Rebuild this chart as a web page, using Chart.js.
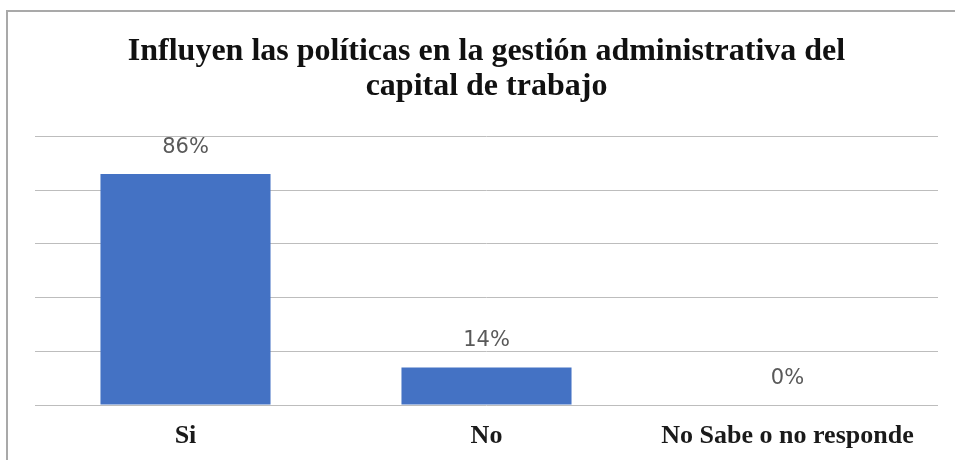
<!DOCTYPE html>
<html>
<head>
<meta charset="utf-8">
<script src="https://cdn.jsdelivr.net/npm/chart.js@4"></script>
<style>
  body { margin: 0; background: #fff; }
  #wrap { width: 955px; height: 460px; }
</style>
</head>
<body>
<div id="wrap"><canvas id="chart1" width="955" height="460"></canvas></div>
<script>
// Influencia de las políticas en el capital de trabajo
const categories = ['Si', 'No', 'No Sabe o no responde'];
const percentages = [86, 14, 0];
const yTicks = [0, 20, 40, 60, 80, 100];

// marco gris del gráfico (solo lados izquierdo y superior)
const frame = {
  id: 'frame',
  beforeDraw(chart) {
    const c = chart.ctx;
    c.save();
    c.strokeStyle = '#a9a9a9';
    c.lineWidth = 2;
    c.beginPath();
    c.moveTo(7, 470);
    c.lineTo(7, 11);
    c.lineTo(960, 11);
    c.stroke();
    c.restore();
  }
};

// porcentaje encima de cada barra
const valueLabels = {
  id: 'valueLabels',
  afterDatasetsDraw(chart) {
    const c = chart.ctx;
    const meta = chart.getDatasetMeta(0);
    c.save();
    c.font = '21px "DejaVu Sans"';
    c.fillStyle = '#595959';
    c.textAlign = 'center';
    c.textBaseline = 'alphabetic';
    meta.data.forEach((bar, i) => {
      c.fillText(percentages[i] + '%', bar.x, bar.y - 21);
    });
    c.restore();
  }
};

const ctx = document.getElementById('chart1').getContext('2d');
new Chart(ctx, {
  type: 'bar',
  data: {
    labels: categories,
    datasets: [{
      data: percentages,
      backgroundColor: '#4472c4',
      borderWidth: 0,
      categoryPercentage: 1,
      barPercentage: 0.565
    }]
  },
  options: {
    responsive: false,
    animation: false,
    layout: { padding: { left: 35, right: 17, top: 0, bottom: 11 } },
    plugins: {
      legend: { display: false },
      tooltip: { enabled: false },
      title: {
        display: true,
        text: ['Influyen las políticas en la gestión administrativa del', 'capital de trabajo'],
        color: '#111',
        font: { family: '"Liberation Serif"', size: 32, weight: 'bold', lineHeight: 1.1 },
        padding: { top: 34, bottom: 32 }
      }
    },
    scales: {
      x: {
        grid: { display: false, drawTicks: false },
        border: { display: false },
        afterFit(axis) {
          axis.height = 44;
        },
        ticks: {
          color: '#1a1a1a',
          padding: 16,
          font: { family: '"Liberation Serif"', size: 26, weight: 'bold' }
        }
      },
      y: {
        min: 0,
        max: 100,
        afterBuildTicks(axis) {
          axis.ticks = yTicks.map(v => ({ value: v }));
        },
        grid: { color: '#bdbdbd', lineWidth: 1, drawTicks: false },
        border: { display: false },
        ticks: { display: false }
      }
    }
  },
  plugins: [frame, valueLabels]
});
</script>
</body>
</html>
